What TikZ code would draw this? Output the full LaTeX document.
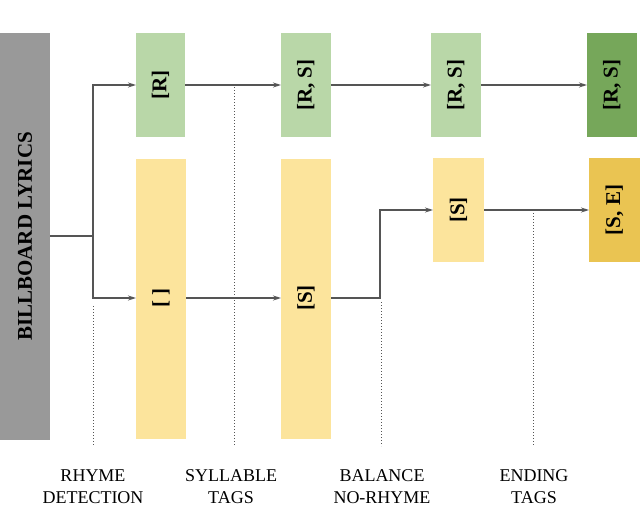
\documentclass[tikz,border=0pt]{standalone}
\usepackage{fontspec}
\setmainfont{Liberation Serif}
\usetikzlibrary{arrows.meta}
\definecolor{lg}{HTML}{B9D7A8}
\definecolor{dg}{HTML}{76A75A}
\definecolor{ly}{HTML}{FCE49C}
\definecolor{gy}{HTML}{EAC452}
\definecolor{gr}{HTML}{999999}
\definecolor{ln}{HTML}{555555}
\tikzset{
 box/.style={inner sep=0pt, font=\fontsize{21}{21}\selectfont\bfseries},
 conn/.style={draw=ln, line width=1.2pt, -{Stealth[length=8pt,width=5pt]}},
 plain/.style={draw=ln, line width=1.2pt},
 dots/.style={draw=ln, line width=1pt, dotted},
 lab/.style={font=\fontsize{18}{22}\selectfont, align=center}
}
\begin{document}
\begin{tikzpicture}[x=1pt,y=-1pt]
\useasboundingbox (0,0) rectangle (640,511);
\fill[gr] (0,33) rectangle (50,440);
\node[box, rotate=90] (src) at (25,236.5) {BILLBOARD LYRICS};
\coordinate (srcr) at (50,236);
\fill[lg] (136,33) rectangle (185,137); \node[box,rotate=90] (r1) at (160.5,85) {[R]};
\fill[ly] (136,159) rectangle (186,439); \node[box,rotate=90] (e1) at (161,298) {[ ]};
\fill[lg] (281,33) rectangle (331,137); \node[box,rotate=90] (r2) at (306,85) {[R, S]};
\fill[ly] (281,159) rectangle (331,439); \node[box,rotate=90] (s2) at (306,298) {[S]};
\fill[lg] (431,33) rectangle (481,137); \node[box,rotate=90] (r3) at (456,85) {[R, S]};
\fill[ly] (433,158) rectangle (484,262); \node[box,rotate=90] (s3) at (458.5,210) {[S]};
\fill[dg] (587,33) rectangle (637,137); \node[box,rotate=90] (r4) at (612,85) {[R, S]};
\fill[gy] (589,158) rectangle (640,262); \node[box,rotate=90] (s4) at (614.5,210) {[S, E]};
\coordinate (sp) at (93,236);
\coordinate (r1l) at (136,85); \coordinate (r1r) at (185,85);
\coordinate (r2l) at (281,85); \coordinate (r2r) at (331,85);
\coordinate (r3l) at (431,85); \coordinate (r3r) at (481,85);
\coordinate (r4l) at (587,85);
\coordinate (e1l) at (136,298); \coordinate (e1r) at (186,298);
\coordinate (s2l) at (281,298); \coordinate (s2r) at (331,298);
\coordinate (s3l) at (433,210); \coordinate (s3r) at (484,210);
\coordinate (s4l) at (589,210);
\draw[plain] (srcr) -- (sp);
\draw[conn] (sp) |- (r1l);
\draw[conn] (sp) |- (e1l);
\draw[conn] (r1r) -- (r2l);
\draw[conn] (r2r) -- (r3l);
\draw[conn] (r3r) -- (r4l);
\draw[conn] (e1r) -- (s2l);
\draw[conn] (s2r) -- (380,298) |- (s3l);
\draw[conn] (s3r) -- (s4l);
\coordinate (d1a) at (93,306); \coordinate (d1b) at (93,446);
\coordinate (d2a) at (234,87); \coordinate (d2b) at (234,446);
\coordinate (d3a) at (381,302); \coordinate (d3b) at (381,446);
\coordinate (d4a) at (533,213); \coordinate (d4b) at (533,446);
\draw[dots] (d1a) -- (d1b); \draw[dots] (d2a) -- (d2b);
\draw[dots] (d3a) -- (d3b); \draw[dots] (d4a) -- (d4b);
\node[lab] (l1) at (93,487) {RHYME\\DETECTION};
\node[lab] (l2) at (231,487) {SYLLABLE\\TAGS};
\node[lab] (l3) at (382,487) {BALANCE\\NO-RHYME};
\node[lab] (l4) at (534,487) {ENDING\\TAGS};
\end{tikzpicture}
\end{document}
